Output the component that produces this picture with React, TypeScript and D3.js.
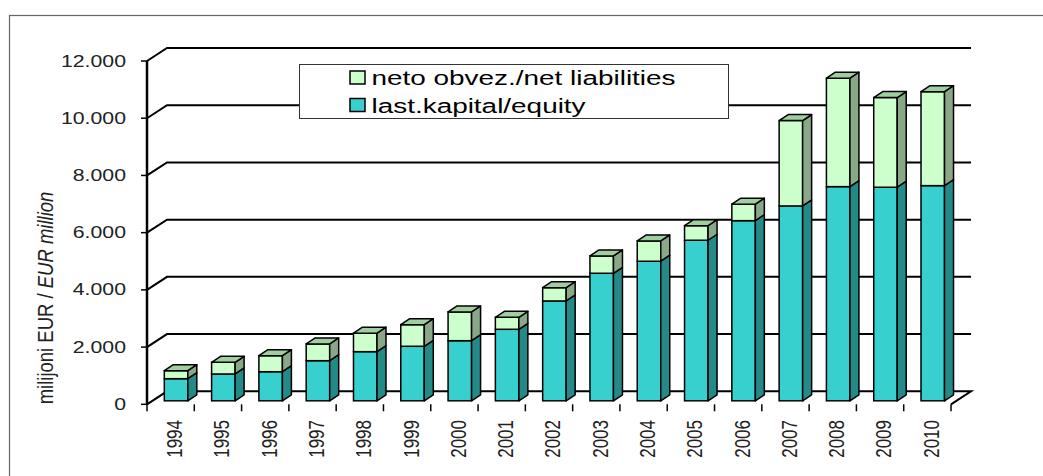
import React from "react";
import * as d3 from "d3";

const years = ["1994","1995","1996","1997","1998","1999","2000","2001","2002","2003","2004","2005","2006","2007","2008","2009","2010"];
const equity = [773, 937, 1017, 1402, 1717, 1906, 2101, 2500, 3490, 4458, 4878, 5612, 6297, 6811, 7486, 7465, 7521];
const netLiabilities = [280, 410, 560, 585, 645, 755, 1005, 420, 465, 605, 710, 510, 575, 2985, 3790, 3135, 3285];
const yTicks = [0, 2000, 4000, 6000, 8000, 10000, 12000];
const yTickLabels = ["0", "2.000", "4.000", "6.000", "8.000", "10.000", "12.000"];
const seriesNames = ["neto obvez./net liabilities", "last.kapital/equity"];

const FONT = "'Liberation Sans', Arial, sans-serif";
const SX = 1.33; // horizontal stretch of the reference text

export default function App() {
  const x0 = 147, x1 = 951;
  const wallDx = 20, wallDy = 13;
  const x = d3.scaleBand().domain(years).range([x0, x1]);
  const y = d3.scaleLinear().domain([0, 12000]).range([404.3, 61]);
  const bw = x.bandwidth();
  const barOff = bw * 0.366;
  const barW = bw * 0.497;
  const bdx = 9, bdy = 6;
  const zShift = 3.5; // bar front face sits behind the front axis plane

  const eqFront = "#38d0cf", eqSide = "#248a88", eqTop = "#2fb0ae";
  const liFront = "#ccffcc", liSide = "#88a888", liTop = "#9fcf9f";

  const bar = (i: number, v0: number, v1: number, front: string, side: string, top: string, drawTop: boolean) => {
    const xl = (x(years[i]) as number) + barOff;
    const xr = xl + barW;
    const yb = y(v0) - zShift;
    const yt = y(v1) - zShift;
    return (
      <g key={`${i}-${v0}`}>
        <rect x={xl} y={yt} width={barW} height={yb - yt} fill={front} stroke="#000" strokeWidth={1.5} />
        <path d={`M${xr},${yt}L${xr + bdx},${yt - bdy}L${xr + bdx},${yb - bdy}L${xr},${yb}Z`} fill={side} stroke="#000" strokeWidth={1.5} strokeLinejoin="round" />
        {drawTop && (
          <path d={`M${xl},${yt}L${xl + bdx},${yt - bdy}L${xr + bdx},${yt - bdy}L${xr},${yt}Z`} fill={top} stroke="#000" strokeWidth={1.5} strokeLinejoin="round" />
        )}
      </g>
    );
  };

  return (
    <svg width={1043} height={476} style={{ position: "absolute", left: 0, top: 0 }}>
      <rect x={0} y={0} width={1043} height={476} fill="#fff" />
      <rect x={9.5} y={15.5} width={1040} height={470} fill="none" stroke="#666" strokeWidth={1.2} />

      {/* gridlines / walls */}
      {yTicks.map((t) => {
        const yy = y(t);
        if (t === 0) {
          return (
            <path key={t} d={`M${x0},${yy}L${x0 + wallDx},${yy - wallDy}L${x1 + wallDx},${yy - wallDy}L${x1},${yy}`} fill="none" stroke="#000" strokeWidth={2} />
          );
        }
        return (
          <path key={t} d={`M${x0},${yy}L${x0 + wallDx},${yy - wallDy}L${x1 + wallDx},${yy - wallDy}`} fill="none" stroke="#000" strokeWidth={2} />
        );
      })}

      {/* legend box */}
      <rect x={299.5} y={64.5} width={429} height={54} fill="#fff" stroke="#333" strokeWidth={1} />
      {[0, 1].map((k) => (
        <g key={k}>
          <rect x={350} y={71 + k * 27.5} width={15} height={13} fill={k === 0 ? liFront : eqFront} stroke="#000" strokeWidth={1.5} />
          <text transform={`translate(371.5,${85 + k * 27.5}) scale(${SX},1)`} fontFamily={FONT} fontSize={21} fill="#000">{seriesNames[k]}</text>
        </g>
      ))}

      {/* bars */}
      {years.map((yr, i) => (
        <g key={yr}>
          {bar(i, 0, equity[i], eqFront, eqSide, eqTop, false)}
          {bar(i, equity[i], equity[i] + netLiabilities[i], liFront, liSide, liTop, true)}
        </g>
      ))}

      {/* y axis */}
      <line x1={x0} y1={y(12000)} x2={x0} y2={y(0)} stroke="#000" strokeWidth={2.5} />
      {yTicks.map((t, k) => (
        <g key={t}>
          <line x1={x0 - 6} y1={y(t)} x2={x0} y2={y(t)} stroke="#000" strokeWidth={1.5} />
          <text transform={`translate(126,${y(t)}) scale(${SX},1)`} textAnchor="end" dominantBaseline="central" fontFamily={FONT} fontSize={16} fill="#222">{yTickLabels[k]}</text>
        </g>
      ))}

      {/* x axis ticks & labels */}
      {years.map((yr, i) => (
        <line key={yr} x1={(x(yr) as number) + bw} y1={y(0)} x2={(x(yr) as number) + bw} y2={y(0) + 7} stroke="#000" strokeWidth={1.5} />
      ))}
      <line x1={x0} y1={y(0)} x2={x0} y2={y(0) + 7} stroke="#000" strokeWidth={1.5} />
      {years.map((yr) => (
        <text key={yr} transform={`translate(${(x(yr) as number) + bw / 2 + 3.5},420) scale(${SX},1) rotate(-90)`} textAnchor="end" dominantBaseline="central" fontFamily={FONT} fontSize={17} fill="#222">{yr}</text>
      ))}

      {/* y axis title */}
      <text transform={`translate(46,298) scale(1.15,1) rotate(-90)`} textAnchor="middle" dominantBaseline="central" fontFamily={FONT} fontSize={18.5} fill="#222">
        milijoni EUR / <tspan fontStyle="italic">EUR million</tspan>
      </text>
    </svg>
  );
}
